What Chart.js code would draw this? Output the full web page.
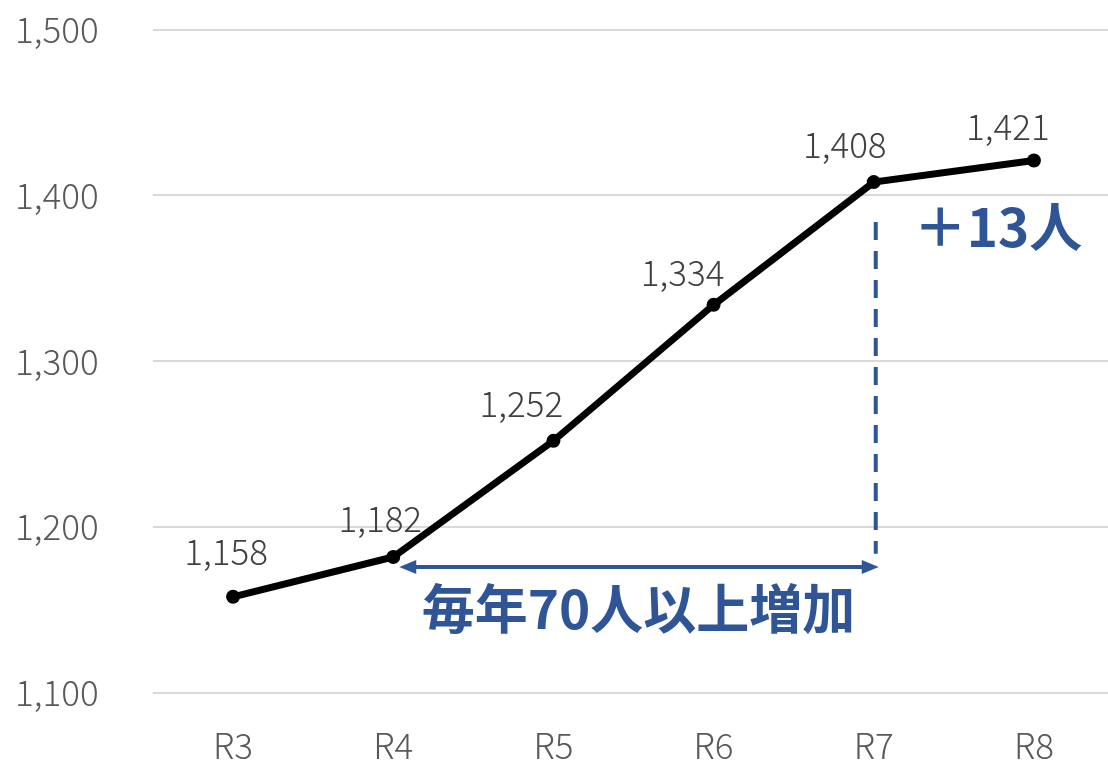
<!DOCTYPE html>
<html>
<head>
<meta charset="utf-8">
<script src="https://cdn.jsdelivr.net/npm/chart.js@4"></script>
<style>
  html, body { margin: 0; padding: 0; background: #fff; overflow: hidden; }
  canvas { display: block; }
</style>
</head>
<body>
<canvas id="chart" width="1121" height="760"></canvas>
<script>
const years = ['R3', 'R4', 'R5', 'R6', 'R7', 'R8'];
const people = [1158, 1182, 1252, 1334, 1408, 1421];
const yTicks = [1100, 1200, 1300, 1400, 1500];
const growthText = '毎年70人以上増加';
const lastText = '＋13人';

const blue = '#2F5597';
const font = '"Noto Sans CJK JP", "Noto Sans", sans-serif';
// label nudges (px) so values sit like the original
const labelDx = [-7, -13, -32, -31, -29, -26];
const labelDy = [-45, -38, -37, -32, -37, -34];

const annotate = {
  id: 'annotate',
  afterDatasetsDraw(chart) {
    const ctx = chart.ctx;
    const x = chart.scales.x, y = chart.scales.y;
    const meta = chart.getDatasetMeta(0);

    // value labels
    ctx.save();
    ctx.font = '300 35px ' + font;
    ctx.fillStyle = '#404040';
    ctx.textAlign = 'center';
    ctx.textBaseline = 'middle';
    meta.data.forEach((p, i) => {
      ctx.fillText(people[i].toLocaleString('en-US'), p.x + labelDx[i], p.y + labelDy[i]);
    });
    ctx.restore();

    const x4 = x.getPixelForValue(1);
    const x7 = x.getPixelForValue(4);
    const yArrow = y.getPixelForValue(1176);

    // dashed drop line at R7
    ctx.save();
    ctx.strokeStyle = blue;
    ctx.lineWidth = 4;
    ctx.setLineDash([18, 11]);
    ctx.beginPath();
    ctx.moveTo(x7 + 2, y.getPixelForValue(1384));
    ctx.lineTo(x7 + 2, y.getPixelForValue(1184));
    ctx.stroke();
    ctx.restore();

    // double arrow R4 -> R7
    ctx.save();
    ctx.strokeStyle = blue;
    ctx.fillStyle = blue;
    ctx.lineWidth = 4;
    const a = x4 + 6, b = x7 + 5;
    ctx.beginPath();
    ctx.moveTo(a + 10, yArrow);
    ctx.lineTo(b - 10, yArrow);
    ctx.stroke();
    ctx.beginPath();
    ctx.moveTo(a, yArrow);
    ctx.lineTo(a + 17, yArrow - 7);
    ctx.lineTo(a + 17, yArrow + 7);
    ctx.closePath();
    ctx.fill();
    ctx.beginPath();
    ctx.moveTo(b, yArrow);
    ctx.lineTo(b - 17, yArrow - 7);
    ctx.lineTo(b - 17, yArrow + 7);
    ctx.closePath();
    ctx.fill();

    ctx.font = 'bold 53px ' + font;
    ctx.textAlign = 'center';
    ctx.textBaseline = 'middle';
    ctx.fillText(growthText, (x4 + x7) / 2 + 5, yArrow + 42);

    ctx.textAlign = 'left';
    ctx.fillText(lastText, x7 + 40, y.getPixelForValue(1381));
    ctx.restore();
  }
};

new Chart(document.getElementById('chart'), {
  type: 'line',
  data: {
    labels: years,
    datasets: [{
      data: people,
      borderColor: '#000',
      backgroundColor: '#000',
      borderWidth: 7,
      pointRadius: 7,
      pointBackgroundColor: '#000',
      pointBorderWidth: 0,
      tension: 0
    }]
  },
  options: {
    responsive: false,
    animation: false,
    layout: { padding: { top: 29, bottom: 0, left: 15, right: 0 } },
    plugins: { legend: { display: false }, tooltip: { enabled: false } },
    scales: {
      x: {
        offset: true,
        afterFit(scale) { scale.height = 67; },
        grid: { display: false },
        border: { display: false },
        ticks: { color: '#595959', font: { family: font, size: 35, weight: 300 }, padding: 24 }
      },
      y: {
        min: 1100,
        max: 1500,
        afterFit(scale) { scale.width = 138; },
        afterBuildTicks(scale) { scale.ticks = yTicks.map(v => ({ value: v })); },
        grid: { color: '#d9d9d9', lineWidth: 2, drawTicks: false },
        border: { display: false },
        ticks: {
          color: '#595959',
          font: { family: font, size: 35, weight: 300, lineHeight: 1 },
          crossAlign: 'far',
          padding: 12,
          callback: v => v.toLocaleString('en-US')
        }
      }
    }
  },
  plugins: [annotate]
});
</script>
</body>
</html>
